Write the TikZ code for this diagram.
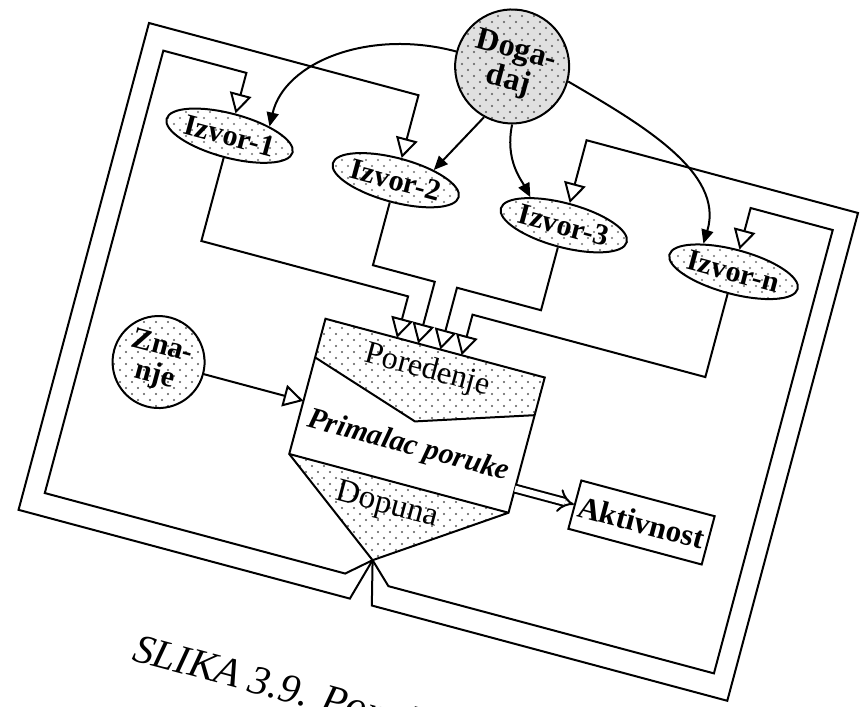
\documentclass[tikz,border=0pt]{standalone}
\usepackage{fontspec}
\setmainfont{Liberation Serif}
\usetikzlibrary{arrows.meta,shapes.geometric,patterns.meta}
\tikzdeclarepattern{
  name=sdots,
  type=uncolored,
  bottom left={(-1pt,-1pt)},
  top right={(5pt,5pt)},
  tile size={(6pt,6pt)},
  code={\pgfpathcircle{\pgfpoint{0pt}{0pt}}{0.55pt}\pgfpathcircle{\pgfpoint{3pt}{3pt}}{0.55pt}\pgfusepath{fill}}
}
\begin{document}
\begin{tikzpicture}[x=0.5pt,y=-0.5pt,
  line width=1pt,
  izv/.style={ellipse, draw, minimum width=63pt, minimum height=22pt, inner sep=0pt,
    pattern=sdots, pattern color=black!55, font=\fontsize{15}{15}\selectfont\bfseries},
  otri/.style={-{Triangle[open,length=10pt,width=11pt]}},
  ftri/.style={-{Triangle[length=7pt,width=6pt]}},
  dotfill/.style={pattern=sdots, pattern color=black!65},
]
\useasboundingbox (0,0) rectangle (860,706);
\fill[white] (0,0) rectangle (860,706);
\clip (0,0) rectangle (860,706);
\begin{scope}[shift={(149,23)}, rotate=-15, transform shape]
  % sources
  \node[izv] (i1) at (107,88) {Izvor-1};
  \node[izv] (i2) at (279,88) {Izvor-2};
  \node[izv] (i3) at (453,88) {Izvor-3};
  \node[izv] (i4) at (629,89) {Izvor-n};
  % event
  \node[circle, draw, minimum size=57pt, inner sep=0pt, preaction={fill=black!12},
    pattern=sdots, pattern color=black!65, align=center,
    font=\fontsize{16}{15.5}\selectfont\bfseries] (dog) at (362,-52) {Doga-\\daj};
  % knowledge
  \node[circle, draw, minimum size=46pt, inner sep=0pt, dotfill, align=center,
    font=\fontsize{15}{14.5}\selectfont\bfseries] (zn) at (97,325) {Zna-\\nje};
  % receiver box
  \coordinate (apex) at (355,461);
  \path[dotfill] (247,240) -- (474,240) -- (474,279) -- (360,316) -- (247,280) -- cycle;
  \path[dotfill] (247,380) -- (474,380) -- (apex) -- cycle;
  \draw (247,240) -- (474,240) -- (474,380) -- (apex) -- (247,380) -- cycle;
  \draw (247,380) -- (474,380);
  \draw (247,280) -- (360,316) -- (474,279);
  \node[font=\fontsize{16}{16}\selectfont] (por) at (359,264) {Poredenje};
  \node[font=\fontsize{15}{15}\selectfont\bfseries\itshape] (prim) at (360,342) {Primalac poruke};
  \node[font=\fontsize{16.5}{16}\selectfont] (dop) at (355,405) {Dopuna};
  \coordinate (inA) at (321,240);
  \coordinate (inB) at (343,240);
  \coordinate (inC) at (366,240);
  \coordinate (inD) at (388,240);
  \coordinate (bxl) at (247,325);
  \coordinate (bxr) at (474,355);
  % activity
  \node[draw, fill=white, minimum width=69pt, minimum height=25pt, inner sep=0pt,
    font=\fontsize{15.5}{15}\selectfont\bfseries] (akt) at (605,355) {Aktivnost};
  % connectors source -> comparison
  \draw[otri] (i1.south) -- (107,197) -- (321,197) -- (inA);
  \draw[otri] (i2.south) -- (279,176) -- (343,176) -- (inB);
  \draw[otri] (i3.south) -- (453,176) -- (366,176) -- (inC);
  \draw[otri] (i4.south) -- (629,198) -- (388,198) -- (inD);
  % feedback loops
  \draw[otri] (apex) -- (332,481) -- (21,481) -- (21,23) -- (107,23) -- (i1.north);
  \draw[otri] (apex) -- (343,504) -- (0,504) -- (0,0) -- (279,0) -- (i2.north);
  \draw[otri] (apex) -- (366,505) -- (734,505) -- (734,0) -- (453,0) -- (i3.north);
  \draw[otri] (apex) -- (377,482) -- (714,482) -- (714,23) -- (629,23) -- (i4.north);
  % event arrows
  \draw[ftri] (dog.west) .. controls (215,-52) and (141,2) .. (i1.28);
  \draw[ftri] (dog.256) -- (i2.30);
  \draw[ftri] (dog.-75) .. controls (379,40) and (400,55) .. (i3.155);
  \draw[ftri] (dog.east) .. controls (500,-30) and (595,-5) .. (i4.152);
  % knowledge arrow
  \draw[otri] (zn.east) -- (bxl);
  % output
  \draw[double, double distance=3pt, -{Implies}] (bxr) -- (akt.west);
  % caption
  \node[anchor=base west, font=\fontsize{20.5}{20}\selectfont\itshape] (cap) at (140,620) {SLIKA 3.9. Pored};
\end{scope}
\end{tikzpicture}
\end{document}
